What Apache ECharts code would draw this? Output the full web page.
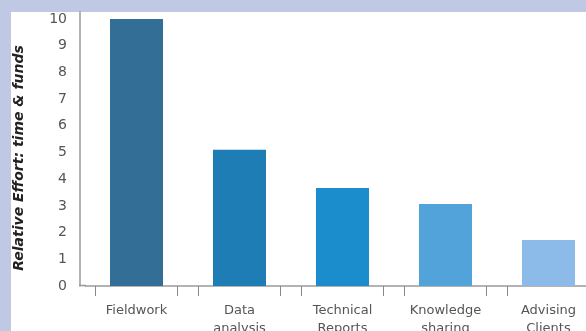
<!DOCTYPE html>
<html><head><meta charset="utf-8">
<script src="https://cdn.jsdelivr.net/npm/echarts@6/dist/echarts.min.js"></script>
<style>html,body{margin:0;padding:0;background:#bfc9e3;}#c{width:586px;height:331px;}</style>
</head><body><div id="c"></div>
<script>
const categories = ['Fieldwork', 'Data\nanalysis', 'Technical\nReports', 'Knowledge\nsharing', 'Advising\nClients'];
const values = [10.0, 5.1, 3.67, 3.07, 1.72];
const barColors = ['#336e96', '#1f7db5', '#1b8dcc', '#52a3da', '#8cbbe9'];
const yTicks = [0,1,2,3,4,5,6,7,8,9,10];
const yTitle = 'Relative Effort: time & funds';

const tickPositions = [];
categories.forEach((c, i) => { tickPositions.push(i - 0.4, i + 0.4); });

const chart = echarts.init(document.getElementById('c'));
chart.setOption({
  backgroundColor: '#bfc9e3',
  animation: false,
  graphic: [
    { type: 'rect', z: -10, shape: { x: 11, y: 12, width: 600, height: 340 }, style: { fill: '#ffffff' } },
    { type: 'line', z: 5, shape: { x1: 79, y1: 285.5, x2: 86, y2: 285.5 }, style: { stroke: '#9a9a9a', lineWidth: 1.5 } }
  ],
  grid: { left: 85, width: 515, top: 12, bottom: 45, containLabel: false, outerBoundsMode: 'none' },
  xAxis: [{
    type: 'category', data: categories,
    axisLine: { onZero: false, lineStyle: { color: '#9a9a9a', width: 1.5 } },
    axisTick: { show: false },
    axisLabel: { color: '#555', fontFamily: 'DejaVu Sans', fontSize: 13, margin: 16, lineHeight: 18 }
  }, {
    type: 'value', position: 'bottom', min: -0.5, max: 4.5,
    axisLine: { show: false, onZero: false }, splitLine: { show: false },
    axisLabel: { show: false },
    axisTick: { show: true, customValues: tickPositions, length: 10, lineStyle: { color: '#888', width: 1 } }
  }],
  yAxis: {
    type: 'value', min: 0, max: 10.26, interval: 1, offset: 5,
    name: yTitle, nameLocation: 'middle', nameGap: 54, nameRotate: 90,
    nameTextStyle: { fontFamily: 'DejaVu Sans', fontSize: 14, fontWeight: 'bold', fontStyle: 'italic', color: '#222', padding: [0, 18, 0, 0] },
    axisLine: { show: true, onZero: false, lineStyle: { color: '#9a9a9a', width: 1.5 } },
    axisTick: { show: false },
    splitLine: { show: false },
    axisLabel: { color: '#555', fontFamily: 'DejaVu Sans', fontSize: 14, margin: 13,
      formatter: v => yTicks.includes(v) ? String(v) : '' }
  },
  series: [{
    type: 'bar', xAxisIndex: 0, barWidth: 53,
    data: values.map((v, i) => ({ value: v, itemStyle: { color: barColors[i] } }))
  }]
});
</script></body></html>
